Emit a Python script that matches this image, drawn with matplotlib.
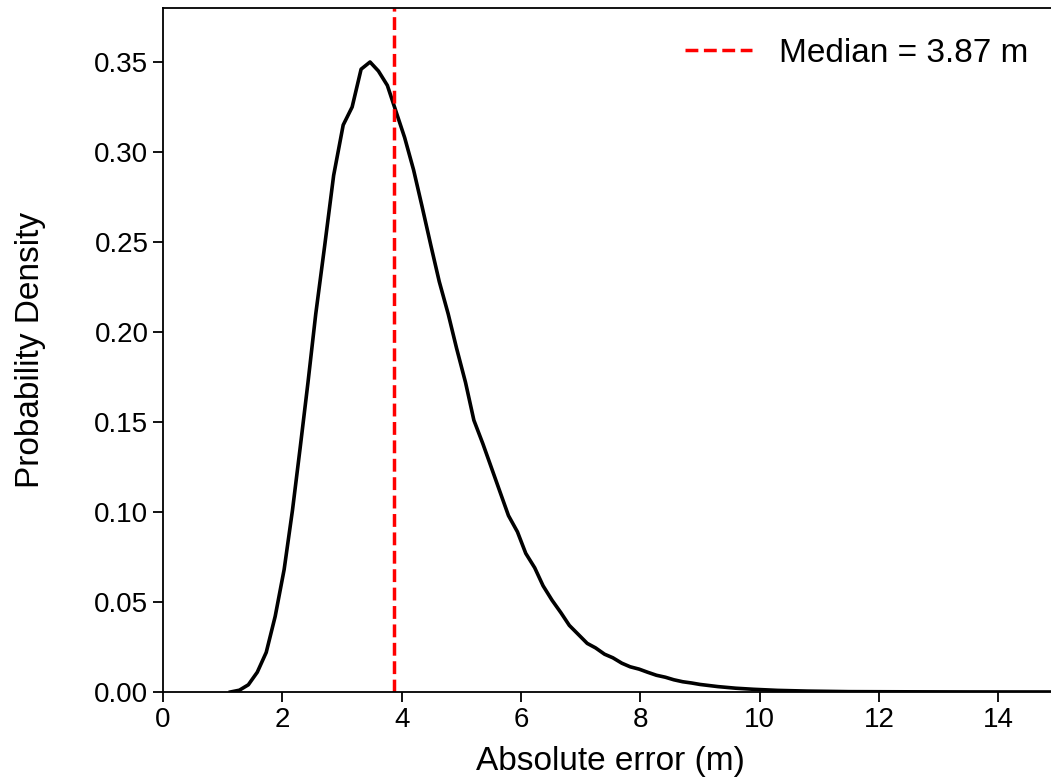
import matplotlib
matplotlib.use("Agg")
import matplotlib.pyplot as plt

plt.rcParams["font.family"] = ["Liberation Sans", "DejaVu Sans"]

# density curve
err_m = [1.13, 1.28, 1.43, 1.58, 1.73, 1.88, 2.03, 2.17, 2.30, 2.43, 2.56, 2.71,
         2.86, 3.02, 3.17, 3.32, 3.47, 3.61, 3.76, 3.90, 4.05, 4.20, 4.34, 4.49,
         4.63, 4.78, 4.92, 5.07, 5.21, 5.36, 5.50, 5.65, 5.79, 5.94, 6.08, 6.23,
         6.37, 6.52, 6.67, 6.81, 6.96, 7.11, 7.25, 7.40, 7.54, 7.69, 7.83, 7.98,
         8.12, 8.27, 8.42, 8.56, 8.71, 8.86, 9.00, 9.30, 9.60, 9.90, 10.3, 10.8,
         11.5, 12.5, 13.5, 15.0]
density = [0.0, 0.001, 0.004, 0.011, 0.022, 0.042, 0.068, 0.101, 0.136, 0.172,
           0.210, 0.248, 0.287, 0.315, 0.325, 0.346, 0.350, 0.345, 0.337, 0.323,
           0.308, 0.290, 0.270, 0.248, 0.228, 0.210, 0.191, 0.172, 0.151, 0.138,
           0.125, 0.111, 0.098, 0.089, 0.077, 0.069, 0.059, 0.051, 0.044, 0.037,
           0.032, 0.027, 0.0245, 0.021, 0.019, 0.016, 0.014, 0.0127, 0.011,
           0.0093, 0.0082, 0.0068, 0.0057, 0.0050, 0.0042, 0.0030, 0.0021,
           0.0015, 0.0009, 0.0005, 0.0002, 0.0001, 0.00003, 0.0]
median_m = 3.87

fig = plt.figure(figsize=(10.51, 7.80), dpi=100)
# axes runs a little past the right edge, as in the reference
ax = fig.add_axes([163 / 1051, 1 - 692 / 780, 895 / 1051, 684 / 780])

ax.plot(err_m, density, color="black", lw=2.6)
ax.axvline(median_m, color="red", ls="--", lw=2.5, label=f"Median = {median_m:.2f} m")

ax.set_xlim(0, 15)
ax.set_ylim(0, 0.38)
ax.set_xticks([0, 2, 4, 6, 8, 10, 12, 14])
ax.set_yticks([0.0, 0.05, 0.10, 0.15, 0.20, 0.25, 0.30, 0.35])
ax.set_yticklabels([f"{v:.2f}" for v in ax.get_yticks()])
ax.tick_params(labelsize=20, length=7, width=1.3)
for s in ax.spines.values():
    s.set_linewidth(1.3)

ax.set_xlabel("Absolute error (m)", fontsize=24, labelpad=10)
ax.set_ylabel("Probability Density", fontsize=24, labelpad=35)
ax.legend(loc="upper right", fontsize=24, frameon=False)

fig.savefig("out.png", dpi=100)
print("done")
